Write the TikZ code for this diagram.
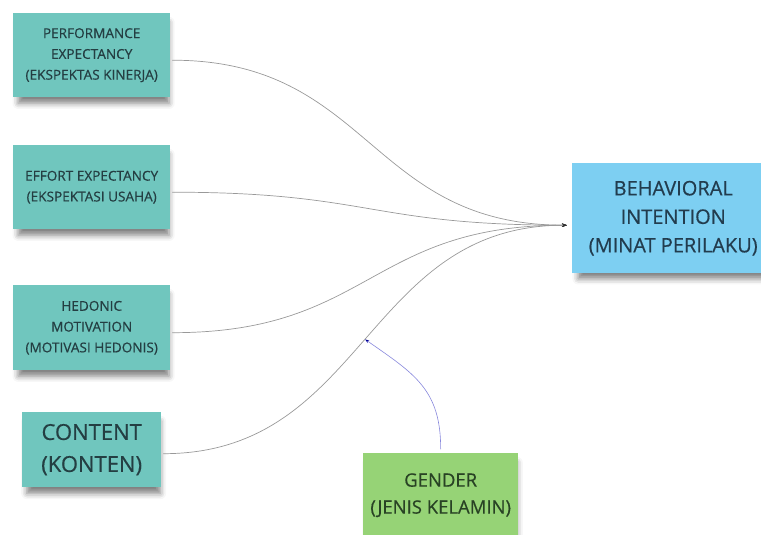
\documentclass[tikz,border=0pt]{standalone}
\usepackage{fontspec}
\setmainfont{Open Sans}[FakeBold=0.5]
\usetikzlibrary{arrows.meta,shadows.blur}
\definecolor{tosca}{RGB}{112,198,190}
\definecolor{langit}{RGB}{125,207,242}
\definecolor{daun}{RGB}{150,211,118}
\definecolor{tinta}{RGB}{36,62,66}
\begin{document}
\begin{tikzpicture}[x=1pt,y=-1pt,line join=round,line cap=round,>={Stealth[length=5pt,width=3.5pt,color=black!80]},
	note/.style={anchor=north west,align=center,inner sep=0pt,text=tinta,blur shadow={shadow xshift=2pt,shadow yshift=-8pt,shadow blur radius=6pt,shadow opacity=50,shadow scale=.96}},
	kecil/.style={font=\fontsize{13.6}{20.8}\selectfont},
	link/.style={draw=black!40,line width=.7pt}]
	\useasboundingbox (0,0) rectangle (761,535);
	\clip (0,0) rectangle (761,535);
	\node[note,kecil,fill=tosca,minimum width=157pt,minimum height=84pt] (pe) at (13,13) {PERFORMANCE\\EXPECTANCY\\(EKSPEKTAS KINERJA)};
	\node[note,kecil,fill=tosca,minimum width=157pt,minimum height=84pt] (ee) at (13,145) {EFFORT EXPECTANCY\\(EKSPEKTASI USAHA)};
	\node[note,kecil,fill=tosca,minimum width=157pt,minimum height=85pt] (hm) at (13,285) {HEDONIC\\MOTIVATION\\(MOTIVASI HEDONIS)};
	\node[note,fill=tosca,minimum width=139pt,minimum height=75pt,font=\fontsize{22}{32}\selectfont] (ct) at (22,412) {CONTENT\\(KONTEN)};
	\node[note,fill=langit,minimum width=202pt,minimum height=110pt,font=\fontsize{20}{28.5}\selectfont,text={rgb,255:red,34;green,60;blue,78}] (bi) at (572,163) {BEHAVIORAL\\INTENTION\\(MINAT PERILAKU)};
	\node[note,fill=daun,minimum width=155pt,minimum height=84pt,font=\fontsize{18.5}{27}\selectfont,text={rgb,255:red,40;green,66;blue,36}] (gd) at (363,453) {GENDER\\(JENIS KELAMIN)};
	\coordinate (tuju) at ([xshift=-5pt,yshift=-7pt]bi.west);
	\foreach \n in {pe,ee,hm}\draw[link,->] ([xshift=2pt,yshift=-5pt]\n.east) .. controls +(198,0) and +(-198,0) .. (tuju);
	\draw[link,->] ([xshift=2pt,yshift=-4pt]ct.east) .. controls +(202,0) and +(-202,0) .. coordinate[pos=.5] (tengah) (tuju);
	\draw[draw={rgb,255:red,135;green,135;blue,220},line width=.6pt,->,>={Stealth[length=4pt,width=3pt,color=blue!60!black]}] ([yshift=4pt]gd.north) to[out=90,in=-35,looseness=1.15] (tengah);
\end{tikzpicture}
\end{document}
